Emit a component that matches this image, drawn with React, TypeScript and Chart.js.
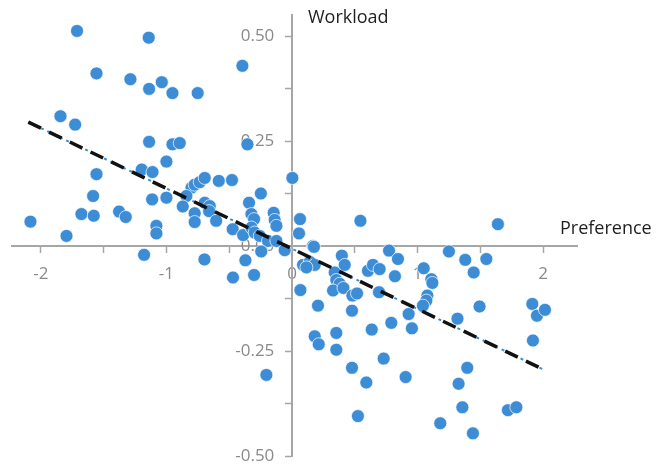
import React, { useEffect, useRef } from "react";
import { Chart, registerables } from "chart.js";

Chart.register(...registerables);

// Preference (x) values of each respondent
const prefX = [
  -1.712, -1.141, -0.395, -1.557, -1.287, -1.037, -1.138, -0.952, -0.751, -1.844,
  -1.727, -1.138, -0.952, -0.894, -0.355, -1.0, -1.197, -1.111, -1.557, 0.003,
  -0.8, -0.775, -0.735, -0.695, -0.583, -0.478, -0.841, -1.114, -1.0, -1.584,
  -0.248, -0.342, -0.695, -0.655, -0.87, -0.66, -0.775, -0.775, -0.604, -1.677,
  -1.579, -1.377, -1.324, -2.083, -1.796, -1.08, -1.08, -0.323, -0.302, -0.146,
  -0.138, -0.124, -0.472, -0.389, -0.323, -0.297, -0.257, -0.191, -0.124, 0.064,
  0.056, 0.545, 1.64, -1.178, -0.697, -0.47, -0.302, -0.371, -0.245, -0.058,
  0.167, 0.088, 0.141, 0.181, 0.115, 0.397, 0.42, 0.773, 0.844, 1.25,
  1.38, 1.548, 1.447, 1.049, 1.11, 1.118, 0.605, 0.645, 0.698, 0.82,
  0.34, 0.353, 0.38, 0.327, 0.41, 0.481, 0.518, 0.693, 1.078, 1.07,
  1.043, 0.478, 0.929, 1.494, 1.914, 1.951, 2.015, 1.318, 0.791, 0.955,
  0.635, 0.353, 1.919, 0.353, 0.73, 0.478, 1.396, 0.592, 0.905, 1.327,
  1.357, 1.72, 1.787, 0.525, 1.181, 1.441, -0.204, 0.067, 0.207, 0.181,
  0.213, 0.175,
];

// Workload (y) values of each respondent
const workY = [
  0.512, 0.496, 0.429, 0.411, 0.397, 0.39, 0.374, 0.364, 0.364, 0.309,
  0.289, 0.248, 0.242, 0.245, 0.242, 0.201, 0.182, 0.176, 0.171, 0.162,
  0.139, 0.146, 0.152, 0.162, 0.155, 0.157, 0.119, 0.111, 0.115, 0.119,
  0.125, 0.103, 0.103, 0.095, 0.094, 0.083, 0.078, 0.057, 0.06, 0.076,
  0.072, 0.082, 0.069, 0.058, 0.024, 0.048, 0.03, 0.076, 0.064, 0.079,
  0.062, 0.048, 0.04, 0.026, 0.044, 0.032, 0.024, 0.012, 0.012, 0.064,
  0.03, 0.06, 0.052, -0.021, -0.032, -0.075, -0.069, -0.034, -0.013, -0.01,
  0.0, -0.045, -0.038, -0.045, -0.051, -0.023, -0.045, -0.011, -0.031, -0.013,
  -0.033, -0.031, -0.063, -0.053, -0.079, -0.088, -0.059, -0.045, -0.055, -0.072,
  -0.063, -0.081, -0.09, -0.106, -0.1, -0.118, -0.113, -0.11, -0.118, -0.13,
  -0.142, -0.154, -0.162, -0.144, -0.138, -0.166, -0.152, -0.173, -0.183, -0.196,
  -0.199, -0.207, -0.225, -0.247, -0.268, -0.29, -0.29, -0.325, -0.312, -0.328,
  -0.384, -0.391, -0.384, -0.405, -0.422, -0.446, -0.307, -0.105, -0.142, -0.215,
  -0.234, -0.002,
];

// Linear trend line end points
const trendX = [-2.1, 2.01];
const trendY = [0.295, -0.295];

// Axis ticks
const xTickValues = [-2, -1.5, -1, -0.5, 0, 0.5, 1, 1.5, 2];
const xTickLabels = ["-2", "", "-1", "", "0", "", "1", "", "2"];
const yTickValues = [-0.5, -0.375, -0.25, -0.125, 0, 0.125, 0.25, 0.375, 0.5];
const yTickLabels = ["-0.50", "", "-0.25", "", "0.00", "", "0.25", "", "0.50"];

const xTitle = "Preference";
const yTitle = "Workload";

const FONT = "'Open Sans', 'Noto Sans', sans-serif";
const TICK_COLOR = "#8a8a8a";
const AXIS_COLOR = "#a6a6a6";
// gap between y tick labels and the axis line (labels are right-aligned on it)
const Y_LABEL_GAP = "    ";

const axisTitles = {
  id: "axisTitles",
  afterDraw(chart: any) {
    const { ctx, chartArea, scales } = chart;
    const x0 = scales.x.getPixelForValue(0);
    const y0 = scales.y.getPixelForValue(0);
    ctx.save();
    ctx.fillStyle = "#1f1f1f";
    ctx.font = `18px ${FONT}`;
    ctx.textBaseline = "alphabetic";
    ctx.textAlign = "left";
    ctx.fillText(yTitle, x0 + 16, chartArea.top + 8);
    ctx.fillText(xTitle, chartArea.right - 17, y0 - 12);
    ctx.restore();
  },
};

export default function App() {
  const ref = useRef<HTMLCanvasElement | null>(null);

  useEffect(() => {
    if (!ref.current) return;
    const points = prefX.map((x, i) => ({ x, y: workY[i] }));
    const trend = trendX.map((x, i) => ({ x, y: trendY[i] }));
    const chart = new Chart(ref.current, {
      type: "scatter",
      data: {
        datasets: [
          {
            type: "line",
            label: "trend",
            data: trend,
            borderColor: "#111111",
            borderWidth: 3.5,
            borderDash: [14, 9],
            pointRadius: 0,
            fill: false,
            order: 0,
          } as any,
          {
            type: "line",
            label: "trend2",
            data: trend,
            borderColor: "#3c8dd5",
            borderWidth: 2,
            borderDash: [3, 4],
            pointRadius: 0,
            fill: false,
            order: 1,
          } as any,
          {
            label: "points",
            data: points,
            backgroundColor: "#3c8dd5",
            borderColor: "rgba(255,255,255,0.7)",
            borderWidth: 1,
            pointRadius: 6.5,
            order: 2,
          },
        ],
      },
      options: {
        responsive: false,
        animation: false,
        events: [],
        layout: { padding: { left: 12, right: 88, top: 15, bottom: 10 } },
        plugins: { legend: { display: false }, tooltip: { enabled: false } },
        scales: {
          x: {
            type: "linear",
            min: -2.23,
            max: 2.27,
            position: { y: 0 } as any,
            afterBuildTicks: (axis: any) => {
              axis.ticks = xTickValues.map((value) => ({ value }));
            },
            ticks: {
              autoSkip: false,
              maxRotation: 0,
              padding: 12,
              color: TICK_COLOR,
              font: { family: FONT, size: 17 },
              callback: (_v: any, i: number) => xTickLabels[i],
            },
            grid: {
              drawOnChartArea: false,
              drawTicks: true,
              tickLength: 6,
              tickColor: AXIS_COLOR,
              tickWidth: 1.5,
            },
            border: { display: true, color: AXIS_COLOR, width: 2 },
          },
          y: {
            type: "linear",
            min: -0.5,
            max: 0.55,
            position: { x: 0 } as any,
            afterBuildTicks: (axis: any) => {
              axis.ticks = yTickValues.map((value) => ({ value }));
            },
            ticks: {
              autoSkip: false,
              padding: -3,
              color: TICK_COLOR,
              font: { family: FONT, size: 17 },
              callback: (_v: any, i: number) =>
                yTickLabels[i] ? yTickLabels[i] + Y_LABEL_GAP : "",
            },
            grid: {
              drawOnChartArea: false,
              drawTicks: true,
              tickLength: 6,
              tickColor: AXIS_COLOR,
              tickWidth: 1.5,
            },
            border: { display: true, color: AXIS_COLOR, width: 2 },
          },
        },
      },
      plugins: [axisTitles],
    });
    return () => chart.destroy();
  }, []);

  return (
    <div style={{ position: "absolute", left: 0, top: 0, width: 665, height: 466, background: "#fff" }}>
      <canvas ref={ref} width={665} height={466} />
    </div>
  );
}
